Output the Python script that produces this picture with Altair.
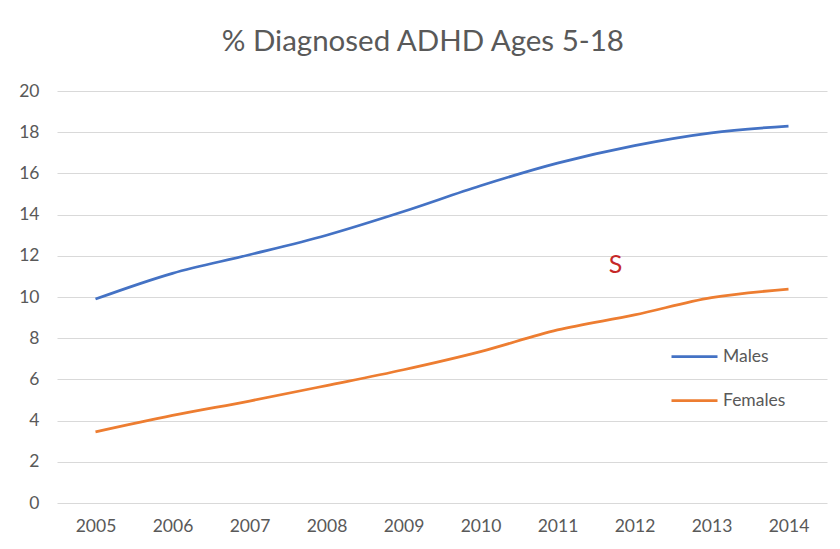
import altair as alt
import pandas as pd

years = ["2005", "2006", "2007", "2008", "2009", "2010", "2011", "2012", "2013", "2014"]
males = [9.9, 11.15, 12.05, 13.0, 14.15, 15.4, 16.5, 17.35, 17.97, 18.3]
females = [3.45, 4.25, 4.95, 5.7, 6.47, 7.35, 8.4, 9.13, 9.97, 10.38]
series = ["Males", "Females"]
colors = ["#4472C4", "#ED7D31"]
y_ticks = [0, 2, 4, 6, 8, 10, 12, 14, 16, 18, 20]

rows = []
for i, yr in enumerate(years):
    rows.append({"year": yr, "series": "Males", "value": males[i]})
    rows.append({"year": yr, "series": "Females", "value": females[i]})
df = pd.DataFrame(rows)

FONT = "Lato"
GREY = "#595959"

lines = alt.Chart(df).mark_line(strokeWidth=2.75, interpolate="catmull-rom").encode(
    x=alt.X("year:N", sort=years, scale=alt.Scale(type="point", padding=0.5),
            axis=alt.Axis(title=None, labelAngle=0, labelPadding=14, ticks=False,
                          domain=False, grid=False)),
    y=alt.Y("value:Q", scale=alt.Scale(domain=[0, 20], nice=False),
            axis=alt.Axis(title=None, values=y_ticks, ticks=False, domain=False,
                          labelPadding=18, grid=True)),
    color=alt.Color("series:N", sort=series,
                    scale=alt.Scale(domain=series, range=colors),
                    legend=alt.Legend(title=None, orient="none", legendX=613, legendY=241,
                                      symbolType="stroke", symbolSize=2116,
                                      symbolStrokeWidth=2.75, labelOffset=4,
                                      rowPadding=11, labelFontSize=17.5,
                                      labelColor=GREY, labelFont=FONT)),
)

note = alt.Chart(pd.DataFrame({"year": ["2012"], "value": [11.55], "t": ["S"]})).mark_text(
    color="#C62828", fontSize=25, font=FONT, dx=-19
).encode(x=alt.X("year:N", sort=years), y="value:Q", text="t:N")

chart = alt.layer(lines, note).properties(
    width=770, height=412,
    title=alt.TitleParams("% Diagnosed ADHD Ages 5-18", anchor="middle", frame="bounds",
                          fontSize=29.5, font=FONT, fontWeight="normal", color=GREY, offset=25),
    autosize=alt.AutoSizeParams(type="none"),
    padding={"left": 49, "top": 83, "right": 5, "bottom": 38},
    background="white",
).configure_view(stroke=None).configure_axis(
    labelFont=FONT, labelFontSize=17.5, labelColor=GREY, gridColor="#D9D9D9", gridWidth=1.2
)

chart.save("out.html", embed_options={"renderer": "svg", "actions": False})
